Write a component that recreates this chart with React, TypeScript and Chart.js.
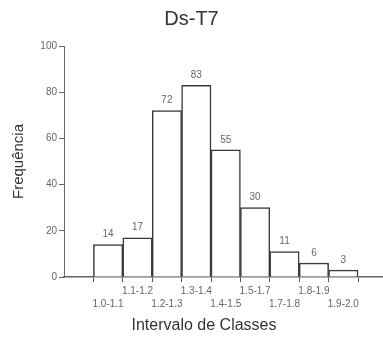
import React, { useEffect, useRef } from "react";
import { Chart, registerables } from "chart.js";

Chart.register(...registerables);

const CATEGORIES = ["1.0-1.1", "1.1-1.2", "1.2-1.3", "1.3-1.4", "1.4-1.5", "1.5-1.7", "1.7-1.8", "1.8-1.9", "1.9-2.0"];
const FREQUENCIES = [14, 17, 72, 83, 55, 30, 11, 6, 3];
const Y_TICKS = [0, 20, 40, 60, 80, 100];
const TITLE = "Ds-T7";
const X_TITLE = "Intervalo de Classes";
const Y_TITLE = "Frequência";

const FONT = "'Liberation Sans', Arial, sans-serif";

export default function App() {
  const ref = useRef<HTMLCanvasElement | null>(null);

  useEffect(() => {
    if (!ref.current) return;
    const labelPlugin = {
      id: "extras",
      afterDatasetsDraw(chart: any) {
        const ctx = chart.ctx;
        const meta = chart.getDatasetMeta(0);
        ctx.save();
        ctx.fillStyle = "#666";
        ctx.font = `10px ${FONT}`;
        ctx.textAlign = "center";
        ctx.textBaseline = "bottom";
        meta.data.forEach((el: any, i: number) => {
          ctx.fillText(String(FREQUENCIES[i]), el.x, el.y - 5);
        });
        ctx.fillStyle = "#333";
        ctx.font = `16px ${FONT}`;
        ctx.textBaseline = "middle";
        ctx.fillText(X_TITLE, 204, 326);
        ctx.restore();
      },
    };

    const chart = new Chart(ref.current, {
      type: "bar",
      data: {
        datasets: [
          {
            data: FREQUENCIES.map((v, i) => ({ x: i + 1.5, y: v })),
            backgroundColor: "#ffffff",
            borderColor: "#3a3a3a",
            borderWidth: 1.5,
            barPercentage: 1,
            categoryPercentage: 1,
          },
        ],
      },
      options: {
        responsive: false,
        animation: false,
        layout: { padding: 0 },
        plugins: {
          legend: { display: false },
          tooltip: { enabled: false },
          title: {
            display: true,
            text: TITLE,
            color: "#333",
            font: { family: FONT, size: 20, weight: "normal" },
            padding: { top: 7, bottom: 15 },
          },
        },
        scales: {
          x: {
            type: "linear",
            offset: false,
            min: 0,
            max: 10.85,
            afterBuildTicks: (scale: any) => {
              scale.ticks = CATEGORIES.map((_, i) => ({ value: i + 1.5 }));
            },
            afterFit: (scale: any) => {
              scale.height = 61;
            },
            ticks: {
              autoSkip: false,
              maxRotation: 0,
              minRotation: 0,
              padding: 3,
              color: "#666",
              font: { family: FONT, size: 10, lineHeight: "13px" },
              callback: (_v: any, index: number) =>
                index % 2 === 0 ? ["", CATEGORIES[index]] : [CATEGORIES[index]],
            },
            grid: {
              display: true,
              offset: true,
              drawOnChartArea: false,
              drawTicks: true,
              tickLength: 5,
              color: "#555",
            },
            border: { display: true, color: "#666", width: 1.5 },
          },
          y: {
            min: 0,
            max: 100,
            afterBuildTicks: (scale: any) => {
              scale.ticks = Y_TICKS.map((v) => ({ value: v }));
            },
            afterFit: (scale: any) => {
              scale.width = 64;
            },
            ticks: {
              padding: 2,
              color: "#666",
              font: { family: FONT, size: 10 },
            },
            grid: {
              display: true,
              drawOnChartArea: false,
              drawTicks: true,
              tickLength: 5,
              color: "#666",
            },
            border: { display: true, color: "#666", width: 1 },
            title: {
              display: true,
              text: Y_TITLE,
              color: "#333",
              font: { family: FONT, size: 15 },
              padding: { top: 10, bottom: 0 },
            },
          },
        },
      },
      plugins: [labelPlugin],
    } as any);
    return () => chart.destroy();
  }, []);

  return (
    <div style={{ position: "absolute", left: 0, top: 0, width: 383, height: 338, background: "#fff" }}>
      <canvas ref={ref} width={383} height={338} style={{ width: 383, height: 338 }} />
    </div>
  );
}
